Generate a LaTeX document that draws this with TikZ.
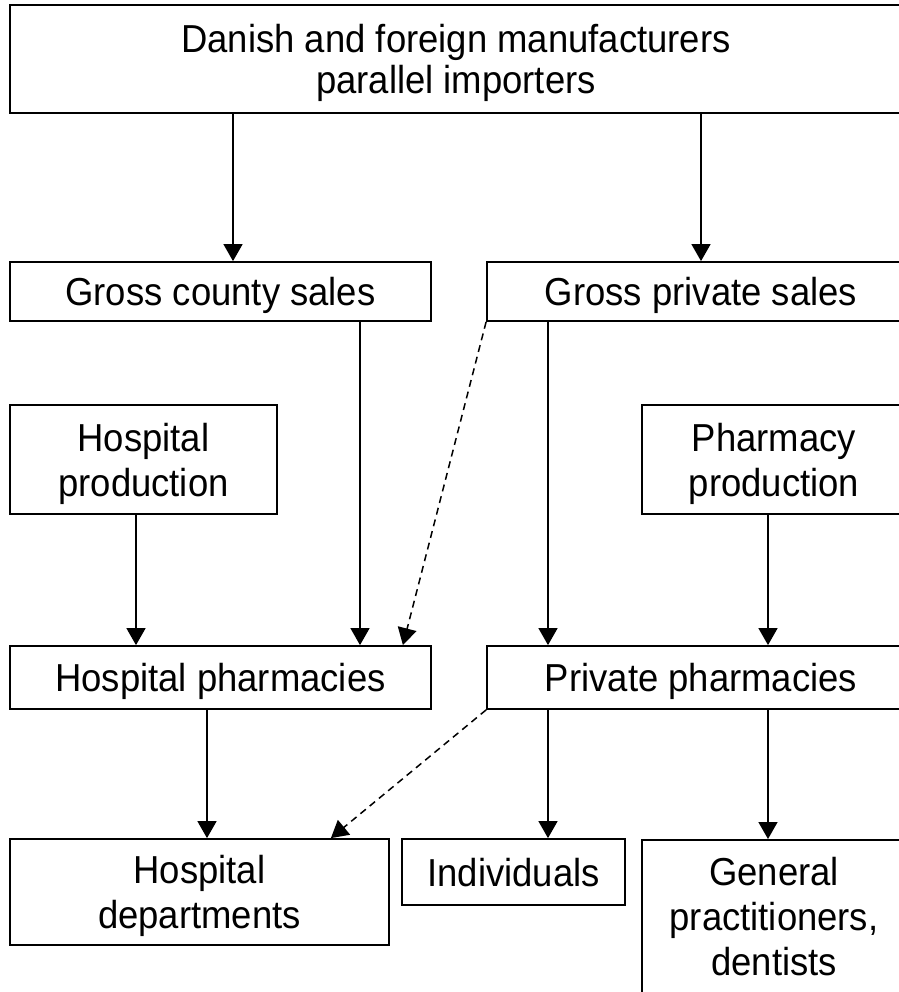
\documentclass[tikz,border=0pt]{standalone}
\usepackage{fontspec}
\setmainfont{Liberation Sans}[FakeStretch=0.935]
\usepackage{tikz}
\usetikzlibrary{arrows.meta,calc,positioning}
\tikzstyle{arrow} = [draw, line width=1.5pt, -{Triangle[length=17pt,width=19pt]}]
\tikzstyle{dasharrow} = [arrow, dash pattern=on 7pt off 5pt]
\tikzstyle{box} = [rectangle, draw=black, line width=1.8pt, inner sep=0pt, align=center,
                   text height=28pt, text depth=0pt,
                   font={\fontsize{39}{45}\selectfont}]
\tikzstyle{twolines} = [text height=73pt]

\begin{document}
\begin{tikzpicture}[x=1pt, y=-1pt]
      \useasboundingbox (0,0) rectangle (898,992);
      \node [box, minimum width=892, minimum height=108, text height=69pt,
             font={\fontsize{39}{41}\selectfont}] at (456,59) (src)
        {Danish and foreign manufacturers\\
          parallel importers};
      \node [box, minimum width=421, minimum height=59] at (220.5,291.5) (county)
        {Gross county sales};
      \node [box, minimum width=428, minimum height=59] at (701,291.5) (psales)
        {Gross private sales};
      \node [box, twolines, minimum width=267, minimum height=109] at (143.5,459.5) (hprod)
        {Hospital\\
          production};
      \node [box, twolines, minimum width=264, minimum height=109] at (774,459.5) (pprod)
        {Pharmacy\\
          production};
      \node [box, minimum width=421, minimum height=63] at (220.5,677.5) (hpharm)
        {Hospital pharmacies};
      \node [box, minimum width=428, minimum height=63] at (701,677.5) (ppharm)
        {Private pharmacies};
      \node [box, twolines, minimum width=379, minimum height=106] at (199.5,892) (hdept)
        {Hospital\\
          departments};
      \node [box, minimum width=223, minimum height=66] at (513.5,872) (indiv)
        {Individuals};
      \node [box, minimum width=264, inner ysep=18pt, text height=118pt, text depth=30pt,
             anchor=north] at (774,839) (gp)
        {General\\
          practitioners,\\
          dentists};
      % solid flows
      \path [arrow] let \p1=($(county.north)+(12.5,0)$), \p2=(src.south) in
        (\x1,\y2) -- (\x1,\y1);
      \path [arrow] (psales.north |- src.south) -- (psales.north);
      \path [arrow] let \p1=($(county.south)+(139.5,0)$), \p2=(hpharm.north) in
        (\x1,\y1) -- (\x1,\y2);
      \path [arrow] let \p1=($(psales.south)+(-153,0)$), \p2=(ppharm.north) in
        (\x1,\y1) -- (\x1,\y2);
      \path [arrow] let \p1=($(hprod.south)+(-7.5,0)$), \p2=(hpharm.north) in
        (\x1,\y1) -- (\x1,\y2);
      \path [arrow] let \p1=($(pprod.south)+(-6,0)$), \p2=(ppharm.north) in
        (\x1,\y1) -- (\x1,\y2);
      \path [arrow] let \p1=($(hdept.north)+(7.5,0)$), \p2=(hpharm.south) in
        (\x1,\y2) -- (\x1,\y1);
      \path [arrow] let \p1=($(ppharm.south)+(-153,0)$), \p2=(indiv.north) in
        (\x1,\y1) -- (\x1,\y2);
      \path [arrow] let \p1=($(gp.north)+(-6,0)$), \p2=(ppharm.south) in
        (\x1,\y2) -- (\x1,\y1);
      % dashed flows
      \path [dasharrow] (psales.south west) -- ($(hpharm.north east)+(-29,0)$);
      \path [dasharrow] (ppharm.south west) -- ($(hdept.north east)+(-59,0)$);
    \end{tikzpicture}
\end{document}
